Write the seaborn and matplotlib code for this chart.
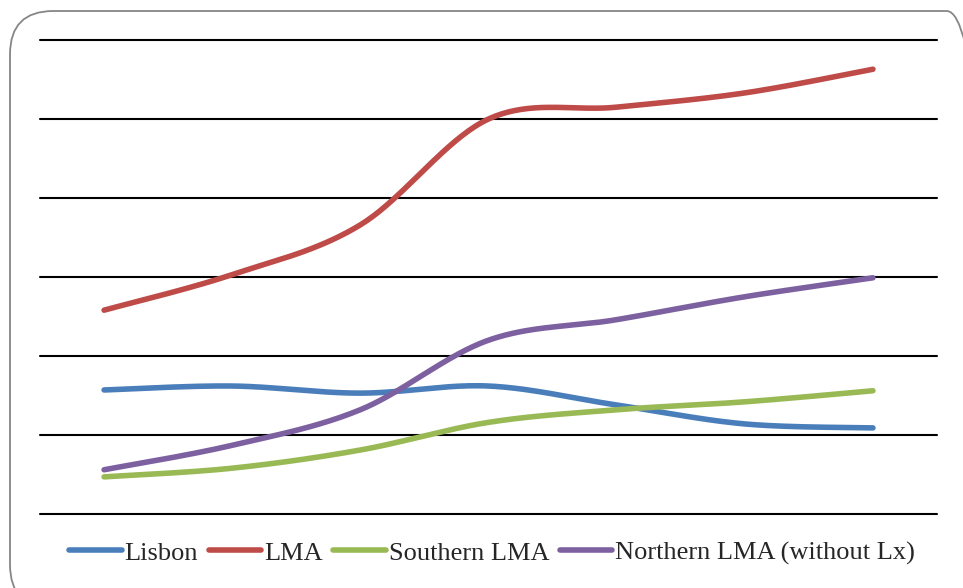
import numpy as np
import pandas as pd
import matplotlib
matplotlib.use('Agg')
import matplotlib.pyplot as plt
import seaborn as sns
from matplotlib.patches import FancyBboxPatch

# valores (eje sin etiquetas, escala 0-6)
periodos = [1, 2, 3, 4, 5, 6, 7]
lisbon = [1.57, 1.62, 1.53, 1.62, 1.38, 1.14, 1.09]
lma = [2.58, 3.03, 3.66, 5.00, 5.15, 5.33, 5.63]
southern = [0.47, 0.58, 0.81, 1.16, 1.32, 1.42, 1.56]
northern = [0.56, 0.87, 1.32, 2.20, 2.46, 2.75, 2.99]

series = ['Lisbon', 'LMA', 'Southern LMA', 'Northern LMA (without Lx)']
colores = ['#4a7ebb', '#be4b48', '#98b954', '#7d60a0']


def suavizar(x, y, n=40):
    # curva tipo "línea suavizada" de Excel (Catmull-Rom / Bezier)
    x = np.asarray(x, float)
    y = np.asarray(y, float)
    px = np.concatenate([[x[0]], x, [x[-1]]])
    py = np.concatenate([[y[0]], y, [y[-1]]])
    xs, ys = [], []
    t = np.linspace(0, 1, n)
    for i in range(1, len(px) - 2):
        p0 = np.array([px[i], py[i]])
        p3 = np.array([px[i + 1], py[i + 1]])
        p1 = p0 + (np.array([px[i + 1], py[i + 1]]) - np.array([px[i - 1], py[i - 1]])) / 6
        p2 = p3 - (np.array([px[i + 2], py[i + 2]]) - np.array([px[i], py[i]])) / 6
        b = ((1 - t) ** 3)[:, None] * p0 + (3 * (1 - t) ** 2 * t)[:, None] * p1 \
            + (3 * (1 - t) * t ** 2)[:, None] * p2 + (t ** 3)[:, None] * p3
        xs.extend(b[:, 0])
        ys.extend(b[:, 1])
    return xs, ys


filas = []
for nombre, valores in zip(series, [lisbon, lma, southern, northern]):
    xs, ys = suavizar(range(len(periodos)), valores)
    for i, (a, b) in enumerate(zip(xs, ys)):
        filas.append({'serie': nombre, 'orden': i, 'x': a, 'y': b})
df = pd.DataFrame(filas)

sns.set_style('white')
plt.rcParams['font.family'] = ['Liberation Serif', 'DejaVu Serif']

fig = plt.figure(figsize=(9.63, 5.88), dpi=100)
W, H = 963, 588
ax = fig.add_axes([40 / W, 1 - 514 / H, (937 - 40) / W, (514 - 40) / H])

# marco redondeado del área del gráfico
marco = FancyBboxPatch((10 / W, -20 / H), (990 - 10) / W, (577 + 20) / H,
                       boxstyle='round,pad=0,rounding_size=0.045',
                       transform=fig.transFigure, facecolor='none',
                       edgecolor='#868686', linewidth=1.3, zorder=0,
                       mutation_aspect=W / H)
fig.patches.append(marco)

for g in range(0, 7):
    ax.axhline(g, color='black', linewidth=1.5, zorder=1, clip_on=False)

sns.lineplot(data=df, x='x', y='y', hue='serie', hue_order=series,
             palette=colores, linewidth=4, sort=False, estimator=None,
             ax=ax, legend=False, solid_capstyle='round', zorder=3)

ax.set_xlim(-0.5, 6.5)
ax.set_ylim(0, 6)
ax.set_xticks([])
ax.set_yticks([])
ax.set_xlabel('')
ax.set_ylabel('')
for s in ax.spines.values():
    s.set_visible(False)

handles = [plt.Line2D([0], [0], color=c, linewidth=4, solid_capstyle='round')
           for c in colores]
fig.legend(handles, series, loc='center', bbox_to_anchor=(0.511, 1 - 553 / H),
           ncol=4, frameon=False, fontsize=19, handlelength=2.0,
           handletextpad=0.1, columnspacing=0.4)

fig.savefig('out.png', dpi=100)
